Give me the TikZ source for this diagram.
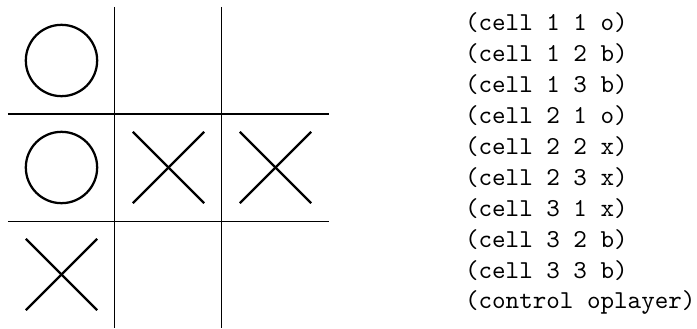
\documentclass[tikz,border=0pt]{standalone}
\usepackage{tikz}
\usetikzlibrary{calc}
\tikzset{
  % board
  board/.style={line width=0.4pt,draw=black},
  piece/.style={line width=0.9pt,draw=black},
  % state listing
  fact/.style={font=\fontsize{10.3pt}{12.4pt}\selectfont\ttfamily,anchor=base west,inner sep=0pt},
}

\begin{document}
\begin{tikzpicture}
        \useasboundingbox (-0.112,-4.5) rectangle (9.659,0.098);
        % cell centres
        \foreach \r in {1,2,3}
          \foreach \c in {1,2,3}
            \coordinate (c\r\c) at ({1.5*\c-0.75},{-1.5*\r+0.75});
        \foreach \k in {1.5,3}{
          \draw[board] (\k,0) -- (\k,-4.5);
          \draw[board] (0,-\k) -- (4.5,-\k);
        }
        \foreach \p in {c11,c21}
          \draw[piece] (\p) circle[radius=5mm];
        \foreach \p in {c22,c23,c31}{
          \draw[piece] ($(\p)+(-0.5,0.5)$) -- ($(\p)+(0.5,-0.5)$);
          \draw[piece] ($(\p)+(-0.5,-0.5)$) -- ($(\p)+(0.5,0.5)$);
        }
        \foreach \t [count=\i] in {(cell 1 1 o),(cell 1 2 b),(cell 1 3 b),(cell 2 1 o),(cell 2 2 x),
            (cell 2 3 x),(cell 3 1 x),(cell 3 2 b),(cell 3 3 b),(control oplayer)}
          \node[fact] (f\i) at (6.4,{-0.336-0.433*(\i-1)}) {\t};
      \end{tikzpicture}
\end{document}
